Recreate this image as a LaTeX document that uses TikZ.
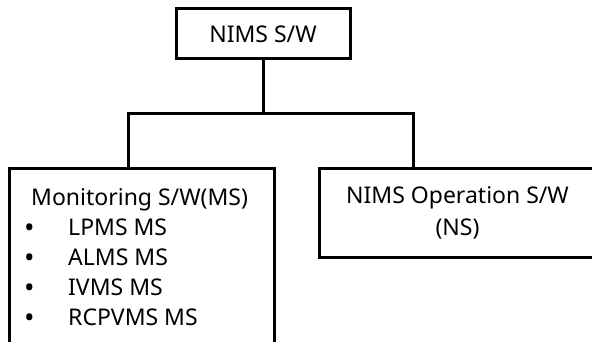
\documentclass[tikz,border=0pt]{standalone}
\usepackage{fontspec}
\setmainfont{Noto Sans}
\usetikzlibrary{positioning}

\begin{document}
\begin{tikzpicture}[
  x=1pt, y=-1pt,
  box/.style={draw, line width=3pt, inner sep=0pt},
  link/.style={line width=3pt},
  txt/.style={font=\fontsize{23}{32}\selectfont},
  item/.style={txt, inner sep=0pt, anchor=base west},
]
\useasboundingbox (0,0) rectangle (592,342);
\begin{scope}
\clip (0,0) rectangle (592,342);

% === ROOT ===
\node[box, txt, minimum width=174pt, minimum height=50pt] (root) at (263,34) {NIMS S/W};

% === CHILD BOXES ===
\node[box, minimum width=265pt, minimum height=200pt] (ms) at (141.5,269) {};
\node[box, txt, align=center, minimum width=277pt, minimum height=88pt] (ns) at (457.5,213)
  {NIMS Operation S/W\\(NS)};

% monitoring list
\node[item] (mstitle) at (31,205) {Monitoring S/W(MS)};
\foreach \name [count=\i] in {LPMS MS, ALMS MS, IVMS MS, RCPVMS MS} {
  \node[item, font=\fontsize{28}{32}\selectfont] (bul\i) at (24,207+30*\i) {\textbullet};
  \node[item] (it\i) at (68,205+30*\i) {\name};
}

% === CONNECTORS ===
\coordinate (lj) at (128,114);
\coordinate (rj) at (413,114);
\draw[link] (root.south) -- (root.south |- lj);
\draw[link] (ms.north -| lj) -- (lj) -- (rj) -- (ns.north -| rj);
\end{scope}
\end{tikzpicture}
\end{document}
